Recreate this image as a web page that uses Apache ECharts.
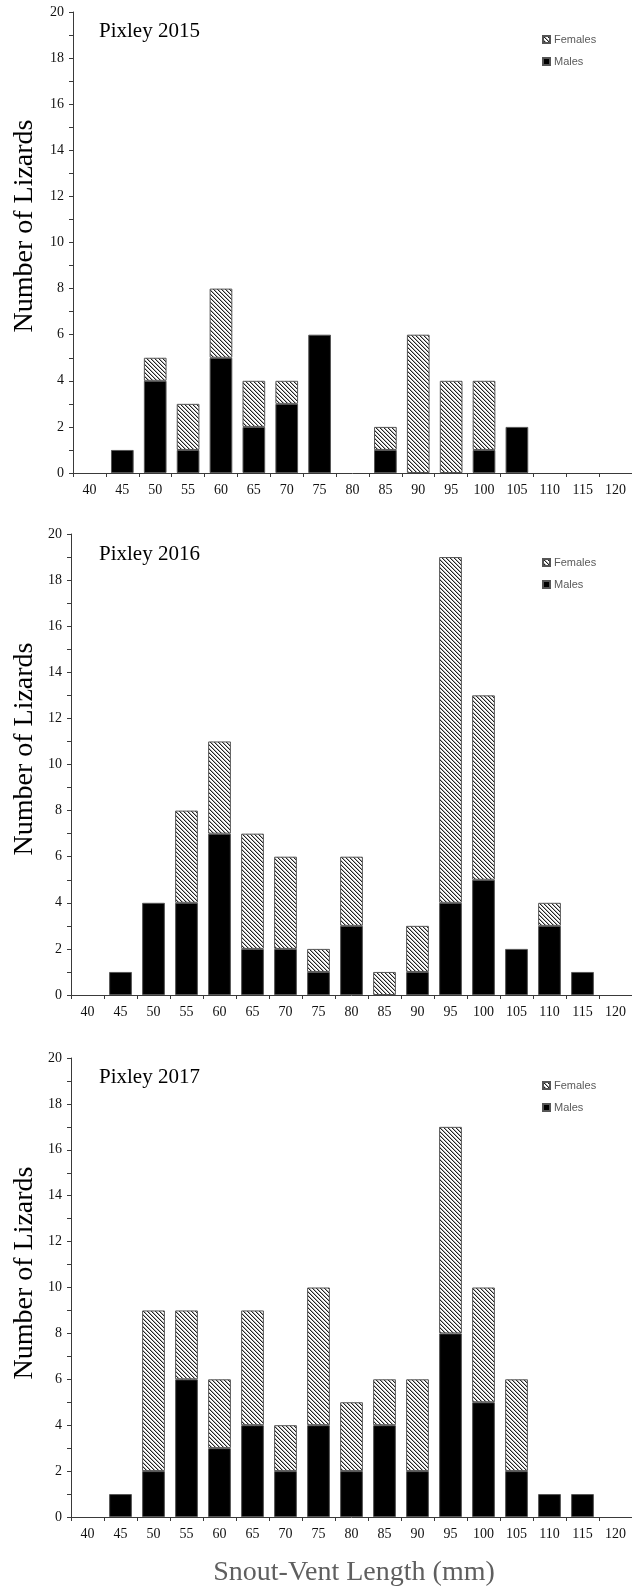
<!DOCTYPE html>
<html>
<head>
<meta charset="utf-8">
<title>Pixley SVL histograms</title>
<script src="https://cdn.jsdelivr.net/npm/echarts@6/dist/echarts.min.js"></script>
<style>
  html, body { margin: 0; padding: 0; background: #fff; }
  #chart { width: 632px; height: 1589px; }
</style>
</head>
<body>
<div id="chart"></div>
<script>
// Snout-vent length classes (mm)
const categories = ['40','45','50','55','60','65','70','75','80','85','90','95','100','105','110','115','120'];

// Counts per length class, by sex and year
const males2015   = [0,1,4,1,5,2,3,6,0,1,0,0,1,2,0,0,0];
const females2015 = [0,0,1,2,3,2,1,0,0,1,6,4,3,0,0,0,0];
const males2016   = [0,1,4,4,7,2,2,1,3,0,1,4,5,2,3,1,0];
const females2016 = [0,0,0,4,4,5,4,1,3,1,2,15,8,0,1,0,0];
const males2017   = [0,1,2,6,3,4,2,4,2,4,2,8,5,2,1,1,0];
const females2017 = [0,0,7,3,3,5,2,6,3,2,4,9,5,4,0,0,0];

const yearTitles = ['Pixley 2015', 'Pixley 2016', 'Pixley 2017'];

// Diagonal hatch tile for the female bars
function hatchTile() {
  const c = document.createElement('canvas');
  c.width = 4; c.height = 4;
  const g = c.getContext('2d');
  g.fillStyle = '#ffffff';
  g.fillRect(0, 0, 4, 4);
  for (let i = 0; i < 4; i++) {
    g.fillStyle = '#222222';
    g.fillRect(i, i, 1, 1);
    g.fillStyle = '#b0b0b0';
    g.fillRect((i + 1) % 4, i, 1, 1);
  }
  return c;
}
const hatch = { image: hatchTile(), repeat: 'repeat' };

const serif = '"Liberation Serif", "Times New Roman", serif';
const panels = [
  { males: males2015, females: females2015, left: 73, top: 12, height: 461, titleY: 33, legendTop: 29, yTitle: 226 },
  { males: males2016, females: females2016, left: 71, top: 534, height: 461, titleY: 556, legendTop: 552, yTitle: 749 },
  { males: males2017, females: females2017, left: 71, top: 1058, height: 459, titleY: 1079, legendTop: 1075, yTitle: 1273 }
];

const nz = arr => arr.map(v => (v === 0 ? '-' : v));

const grids = [], xAxes = [], yAxes = [], series = [], legends = [], graphics = [];
panels.forEach((p, i) => {
  grids.push({ left: p.left, top: p.top, width: 561, height: p.height });
  xAxes.push({
    type: 'category', gridIndex: i, data: categories, boundaryGap: true,
    axisLine: { lineStyle: { color: '#3a3a3a', width: 1 } },
    axisTick: { show: true, length: 4, lineStyle: { color: '#3a3a3a' } },
    axisLabel: { fontFamily: serif, fontSize: 14, color: '#111', margin: 10, interval: 0 },
    splitLine: { show: false }
  });
  yAxes.push({
    type: 'value', gridIndex: i, min: 0, max: 20, interval: 2,
    axisLine: { show: true, lineStyle: { color: '#3a3a3a', width: 1 } },
    axisTick: { show: true, length: 4, lineStyle: { color: '#3a3a3a' } },
    minorTick: { show: true, splitNumber: 2, length: 4, lineStyle: { color: '#3a3a3a' } },
    axisLabel: { fontFamily: serif, fontSize: 14, color: '#111', margin: 9 },
    splitLine: { show: false }
  });
  series.push({
    name: 'Males', type: 'bar', stack: 'p' + i, xAxisIndex: i, yAxisIndex: i,
    data: nz(p.males), barCategoryGap: '31%',
    itemStyle: { color: '#000', borderColor: '#555', borderWidth: 1 }
  });
  series.push({
    name: 'Females', type: 'bar', stack: 'p' + i, xAxisIndex: i, yAxisIndex: i,
    data: nz(p.females), barCategoryGap: '31%',
    itemStyle: { color: hatch, borderColor: '#555', borderWidth: 1 }
  });
  legends.push({
    data: ['Females', 'Males'], orient: 'vertical', left: 537, top: p.legendTop,
    itemWidth: 7, itemHeight: 7, itemGap: 11, icon: 'rect', selectedMode: false,
    textStyle: { fontFamily: '"Liberation Sans", Arial, sans-serif', fontSize: 11, color: '#5a5a5a', padding: [0, 0, 0, -1] }
  });
  graphics.push({
    type: 'text', left: 99, top: p.titleY - 12,
    style: { text: yearTitles[i], font: '21px ' + serif, fill: '#000' }
  });
  graphics.push({
    type: 'text', x: 25, y: p.yTitle, rotation: Math.PI / 2,
    style: { text: 'Number of Lizards', font: '28px ' + serif, fill: '#000', textAlign: 'center', textVerticalAlign: 'middle' }
  });
});
graphics.push({
  type: 'text', x: 354, y: 1573,
  style: { text: 'Snout-Vent Length (mm)', font: '28px ' + serif, fill: '#5f5f5f', textAlign: 'center', textVerticalAlign: 'middle' }
});

const chart = echarts.init(document.getElementById('chart'), null, { renderer: 'canvas' });
chart.setOption({
  animation: false,
  backgroundColor: '#fff',
  grid: grids, xAxis: xAxes, yAxis: yAxes, series: series, legend: legends, graphic: graphics
});
</script>
</body>
</html>
